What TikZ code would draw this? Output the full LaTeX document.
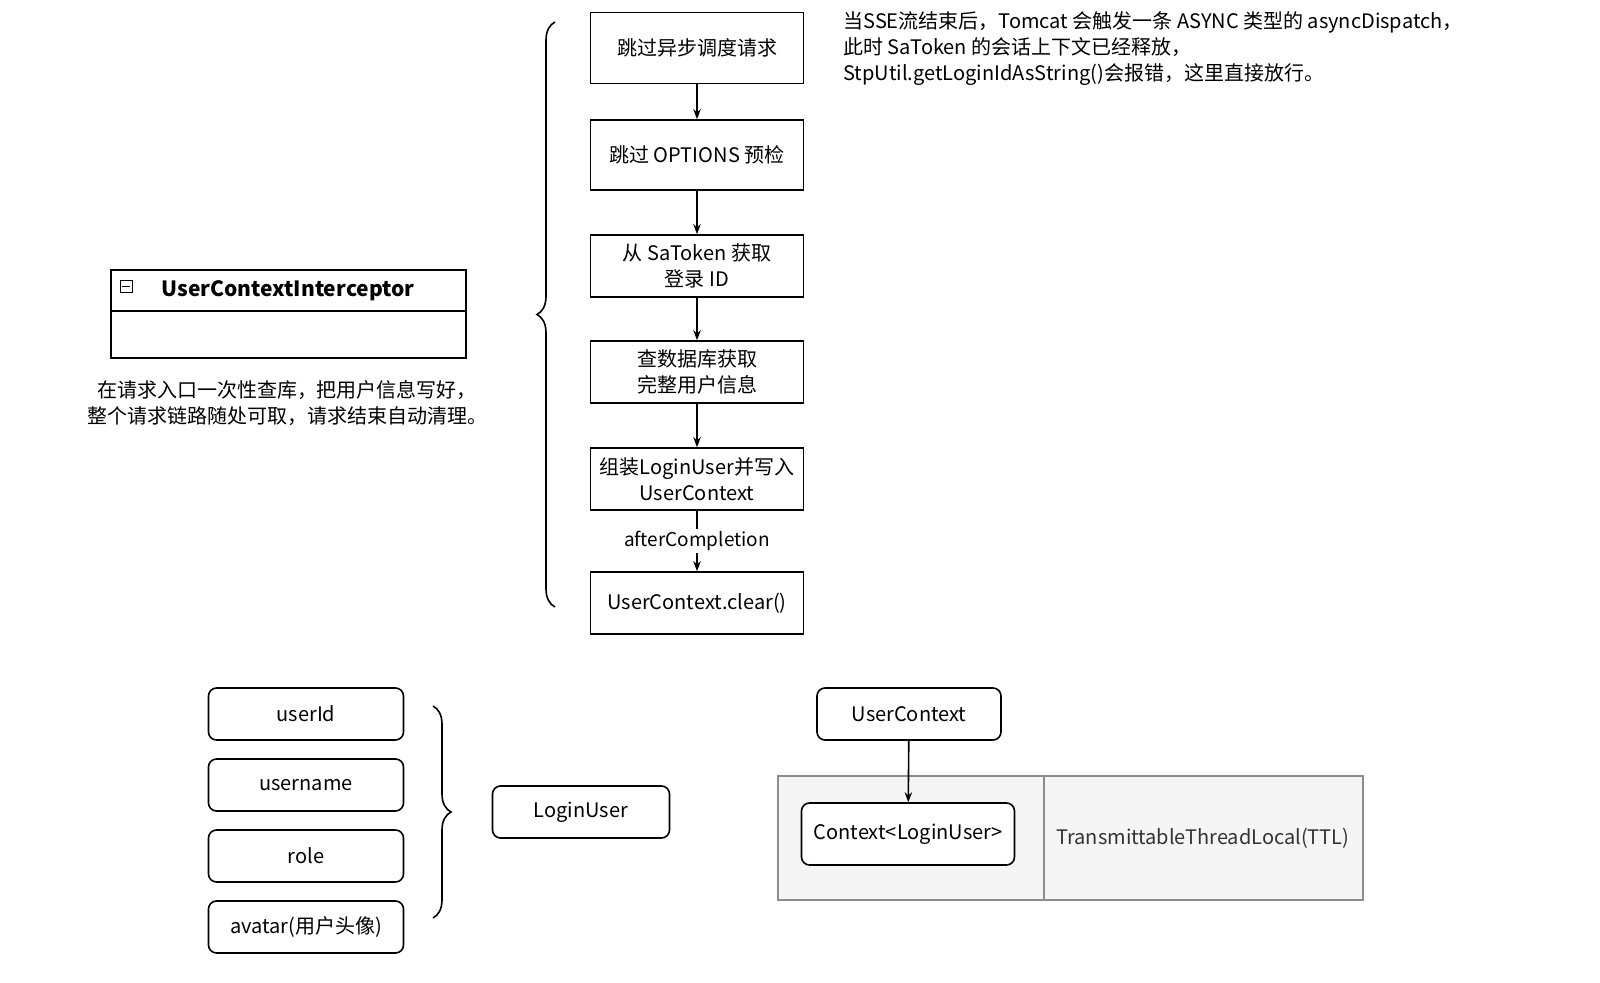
\documentclass[tikz,border=0pt]{standalone}
\usepackage{fontspec}
\setmainfont{Noto Sans CJK SC}
\usetikzlibrary{positioning,decorations.pathreplacing,arrows.meta}
\tikzset{
  stage/.style={draw, thick, minimum width=106.5pt, align=center, font=\fontsize{10}{13}\selectfont},
  item/.style={draw, thick, rounded corners=4pt, minimum width=97.5pt, minimum height=26pt, font=\fontsize{10}{12}\selectfont},
  flow/.style={-{Stealth[length=5pt]}, thick},
  note/.style={align=left, font=\fontsize{10}{13}\selectfont}
}
\begin{document}
\begin{tikzpicture}[x=0.5pt,y=-0.5pt]
  % flow of the interceptor
  \node[stage, minimum height=35.5pt] (skipasync) at (697,48) {跳过异步调度请求};
  \node[stage, minimum height=35pt] (skipopt) at (697,155) {跳过 OPTIONS 预检};
  \node[stage, minimum height=31pt] (getid) at (697,266) {从 SaToken 获取\\登录 ID};
  \node[stage, minimum height=31pt] (query) at (697,372) {查数据库获取\\完整用户信息};
  \node[stage, minimum height=31pt] (build) at (697,479) {组装LoginUser并写入\\UserContext};
  \node[stage, minimum height=31pt] (clear) at (697,603) {UserContext.clear()};
  \draw[flow] (skipasync) -- (skipopt);
  \draw[flow] (skipopt) -- (getid);
  \draw[flow] (getid) -- (query);
  \draw[flow] (query) -- (build);
  \draw[flow] (build) -- node[fill=white, inner sep=1pt, font=\fontsize{9.5}{11}\selectfont] {afterCompletion} (clear);
  \draw[thick, decorate, decoration={brace, amplitude=9pt}] (555,607) -- (555,22);
  \node[note, anchor=north west, inner sep=0pt] (asyncnote) at (843,11)
    {当SSE流结束后，Tomcat 会触发一条 ASYNC 类型的 asyncDispatch，\\此时 SaToken 的会话上下文已经释放，\\StpUtil.getLoginIdAsString()会报错，这里直接放行。};

  % interceptor class box
  \draw[thick] (111,270) rectangle (466,358);
  \draw[thick] (111,311) -- (466,311);
  \node[draw, inner sep=0pt, minimum size=6pt, fill=white] (minus) at (126,286) {};
  \draw (122,286) -- (130,286);
  \node[font=\bfseries\fontsize{10.5}{12}\selectfont] (intercept) at (288,291) {UserContextInterceptor};
  \node[note, align=center] (intnote) at (287,403)
    {在请求入口一次性查库，把用户信息写好，\\整个请求链路随处可取，请求结束自动清理。};

  % login user fields
  \node[item] (userid) at (306,714) {userId};
  \node[item] (uname) at (306,785) {username};
  \node[item] (role) at (306,856) {role};
  \node[item] (avatar) at (306,927) {avatar(用户头像)};
  \draw[thick, decorate, decoration={brace, amplitude=9pt}] (433,706) -- (433,918);
  \node[item, minimum width=88.5pt] (loginuser) at (581,812) {LoginUser};

  % context holder
  \draw[thick, draw=black!45, fill=black!4] (778,776) rectangle (1363,900);
  \draw[thick, draw=black!45] (1044,776) -- (1044,900);
  \node[item, fill=white, minimum width=106.5pt, minimum height=31pt] (ctx) at (908,834) {Context<LoginUser>};
  \node[item, minimum width=92pt] (userctx) at (909,714) {UserContext};
  \node[text=black!80, font=\fontsize{10}{12}\selectfont] (ttl) at (1203,838) {TransmittableThreadLocal(TTL)};
  \draw[flow] (userctx) -- (ctx);

  \pgfresetboundingbox
  \useasboundingbox (0,0) rectangle (1600,983);
\end{tikzpicture}
\end{document}
